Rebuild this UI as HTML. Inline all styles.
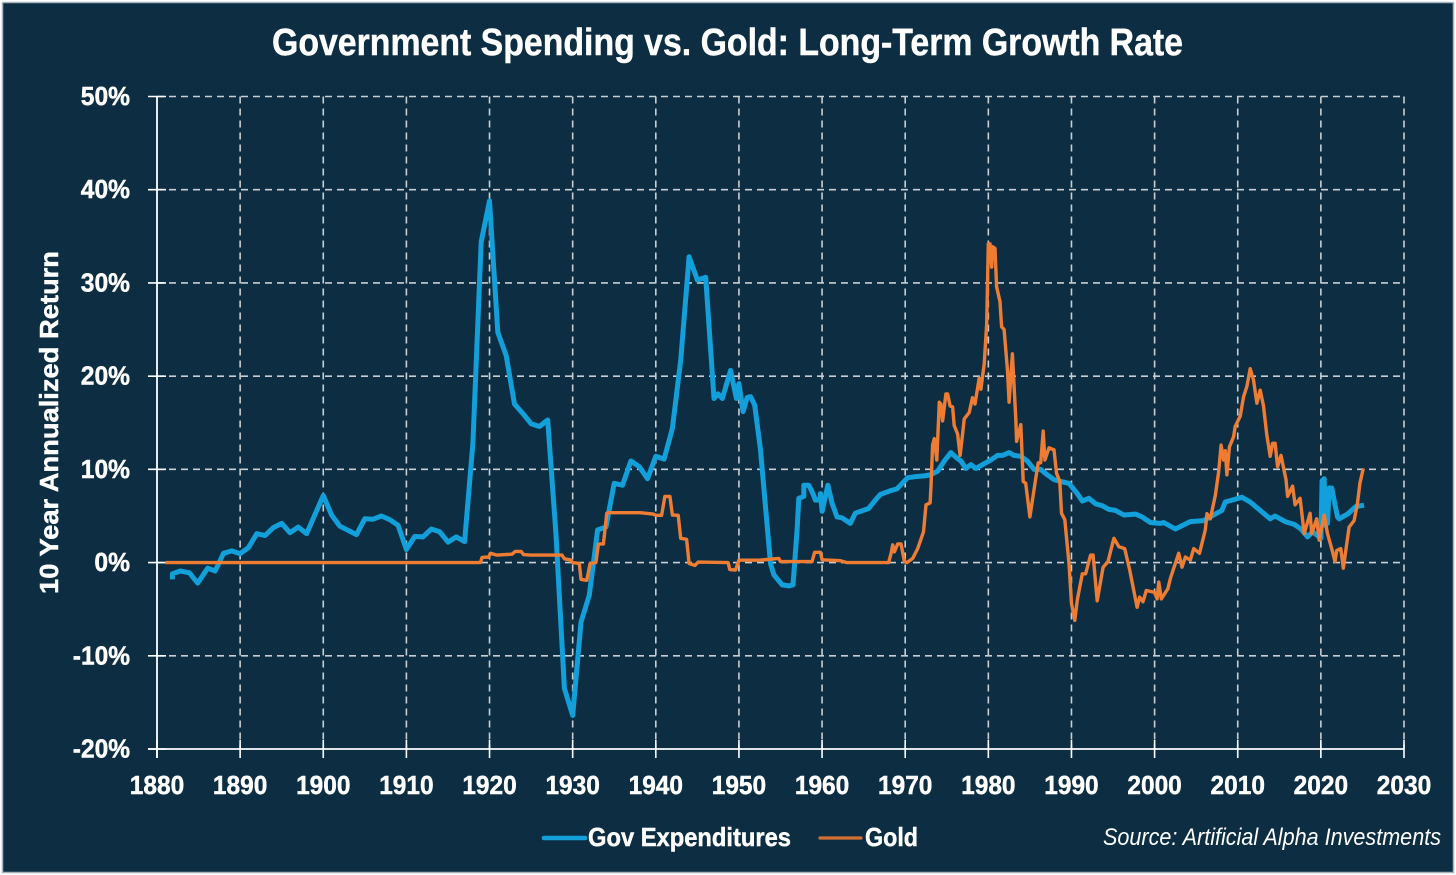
<!DOCTYPE html>
<html lang="en">
<head>
<meta charset="utf-8">
<title>Government Spending vs. Gold: Long-Term Growth Rate</title>
<style>
html,body{margin:0;padding:0;background:#fff;width:1456px;height:875px;overflow:hidden}
svg{display:block}
text{font-family:"Liberation Sans",sans-serif;fill:#fff}
.heavy{stroke:#fff;stroke-width:.45px}
</style>
</head>
<body>
<svg id="chart" width="1456" height="875" viewBox="0 0 1456 875" xmlns="http://www.w3.org/2000/svg">
  <rect x="2.5" y="2.5" width="1451" height="870" fill="#0d2e42" stroke="#a9b3bb" stroke-width="1.5"/>
  <text class="heavy" x="272" y="55" font-size="38" font-weight="700" textLength="911" lengthAdjust="spacingAndGlyphs">Government Spending vs. Gold: Long-Term Growth Rate</text>
  <text class="heavy" transform="translate(58,594) rotate(-90)" font-size="26" font-weight="700" textLength="343" lengthAdjust="spacingAndGlyphs">10 Year Annualized Return</text>
  <g id="grid"></g>
  <g id="axes"></g>
  <g id="series"></g>
  <g>
    <line x1="544" y1="838" x2="585" y2="838" stroke="#149fd8" stroke-width="4.6" stroke-linecap="round"/>
    <text class="heavy" x="588" y="846" font-size="26" font-weight="700" textLength="203" lengthAdjust="spacingAndGlyphs">Gov Expenditures</text>
  </g>
  <g>
    <line x1="820" y1="838" x2="861" y2="838" stroke="#d46f33" stroke-width="3.2" stroke-linecap="round"/>
    <text class="heavy" x="865" y="846" font-size="26" font-weight="700" textLength="53" lengthAdjust="spacingAndGlyphs">Gold</text>
  </g>
  <text x="1103" y="845" font-size="24" font-style="italic" textLength="338" lengthAdjust="spacingAndGlyphs">Source: Artificial Alpha Investments</text>
</svg>
<script>
const xTickLabels = [1880,1890,1900,1910,1920,1930,1940,1950,1960,1970,1980,1990,2000,2010,2020,2030];
const yTickLabels = [50,40,30,20,10,0,-10,-20];

const govYears = [1881.85,1881.85,1882.8,1883.9,1884.9,1886.1,1887,1888,1889,1890,1891,1892,1893,1894,1895,1896,1897,1898,1900,1901,1902,1904,1905,1906,1907,1908,1909,1910,1911,1912,1913,1914,1915,1916,1917,1918,1919,1920,1921,1922,1923,1924,1925,1926,1927,1928,1929,1930,1931,1932,1933,1934,1935,1936,1937,1938,1939,1940,1941,1942,1943,1944,1945,1946,1947,1947.5,1948,1949,1949.7,1950,1950.5,1951,1951.4,1951.9,1952.6,1953.8,1954.2,1955.2,1956,1956.5,1957,1957.2,1957.8,1957.8,1958.4,1958.8,1959.2,1959.7,1959.8,1960,1960.7,1961.2,1961.8,1962.4,1963.4,1964,1965.6,1966.6,1967,1968.2,1969,1970.3,1971.1,1972.3,1973,1973.9,1974.7,1975.5,1976.1,1976.7,1977.3,1977.9,1978.5,1979.3,1980.3,1981.1,1981.7,1982.5,1983.1,1983.9,1984.7,1985.5,1986.3,1987.1,1987.9,1988.7,1989.7,1990.7,1991.3,1992.1,1992.9,1993.7,1994.5,1995.3,1996.3,1997.7,1998.5,1999.5,2000.65,2001.1,2002.5,2004.3,2005.9,2007.3,2008.1,2008.5,2009.3,2010.5,2011.5,2012.7,2013.9,2014.5,2015.7,2016.8,2017.6,2018.4,2019,2020,2020.15,2020.3,2020.4,2020.55,2020.8,2021,2021.3,2022,2022.2,2023.2,2024.2,2025.2];
const govValues = [-1.8,-1.2,-0.9,-1.1,-2.2,-0.6,-0.9,1.0,1.25,0.95,1.6,3.1,2.9,3.75,4.2,3.2,3.8,3.1,7.2,5.1,3.9,3.0,4.7,4.65,5.0,4.6,4.0,1.4,2.8,2.75,3.6,3.3,2.2,2.75,2.25,12.8,34.4,38.8,24.7,22.2,17,16,14.9,14.6,15.3,3.0,-13.5,-16.4,-6.4,-3.5,3.5,3.8,8.5,8.3,10.9,10.3,9.0,11.4,11.1,14.4,21.7,32.8,30.3,30.6,17.6,18.1,17.6,20.6,17.6,19.2,16.2,17.7,17.8,16.9,12.1,-0.1,-1.3,-2.4,-2.5,-2.4,3.5,6.9,7.1,8.3,8.3,7.6,6.7,6.7,7.4,5.5,8.3,6.4,4.9,4.8,4.2,5.3,5.8,6.9,7.3,7.7,7.9,9.1,9.2,9.3,9.4,9.8,10.9,11.8,11.3,10.9,10.1,10.5,10.1,10.5,11,11.5,11.5,11.8,11.5,11.4,10.9,10,10,9.4,8.9,8.7,8.5,7.4,6.6,6.9,6.3,6.1,5.7,5.6,5.1,5.2,4.9,4.3,4.2,4.3,3.6,4.4,4.5,5.2,5.6,6.5,6.7,7,6.5,5.6,4.7,5,4.4,4.1,3.6,2.75,3.3,2.6,8.8,4,9,4.5,4.2,8,8,4.9,4.7,5.2,6.0,6.15];

const goldYears = [1881,1900,1918.9,1919.1,1919.9,1920.1,1920.9,1922.7,1923.1,1923.8,1924.1,1924.9,1928.7,1929,1929.7,1930,1930.8,1931,1931.7,1932.1,1932.8,1933.1,1933.7,1934.1,1934.3,1938.1,1939.7,1940,1940.7,1941.1,1941.7,1942,1942.7,1943,1943.7,1944,1944.7,1945.1,1948.7,1948.9,1949.6,1950,1952.5,1954.8,1955,1958.8,1959.1,1959.8,1960,1962.2,1963,1968,1968.3,1968.5,1968.7,1969.1,1969.5,1969.9,1970.2,1970.9,1971.5,1972.2,1972.5,1973,1973.1,1973.3,1973.5,1973.8,1974.1,1974.3,1974.5,1974.9,1975.1,1975.4,1975.7,1975.9,1976.3,1976.6,1976.9,1977.1,1977.7,1978.1,1978.4,1978.9,1979.1,1979.5,1979.8,1980,1980.2,1980.4,1980.5,1980.8,1981,1981.4,1981.6,1981.9,1982.3,1982.5,1982.9,1983.3,1983.4,1983.9,1984.2,1984.5,1985,1985.7,1986,1986.3,1986.6,1986.8,1987.3,1987.9,1988.2,1988.6,1988.8,1989.2,1989.7,1990,1990.4,1990.7,1991.3,1991.7,1992.3,1992.6,1993.1,1993.8,1994.4,1995.1,1995.7,1996.4,1997,1997.9,1998.2,1998.6,1999,2000,2000.3,2000.5,2000.8,2001.6,2001.9,2002.9,2003.3,2003.7,2004.3,2004.7,2005.4,2006.1,2006.3,2006.7,2007.3,2007.7,2008,2008.3,2008.5,2008.7,2009,2009.5,2009.7,2010.3,2010.7,2011.1,2011.5,2011.9,2012.3,2012.7,2013.1,2013.5,2013.9,2014.2,2014.5,2014.8,2015.2,2015.8,2016,2016.6,2016.9,2017.5,2018,2018.7,2018.9,2019.5,2019.8,2020.4,2020.8,2021.3,2021.7,2021.9,2022.4,2022.7,2023.4,2024,2024.4,2024.7,2025.1];
const goldValues = [0,0,0,0.55,0.6,1,0.8,0.9,1.2,1.2,0.85,0.8,0.8,0.4,0.3,0,-0.1,-1.8,-1.9,-0.1,0,2,2,5.3,5.35,5.35,5.2,5.07,5.07,7.1,7.1,5.1,5.07,2.6,2.5,-0.1,-0.3,0.05,0,-0.75,-0.8,0.25,0.25,0.45,0.1,0.1,1.1,1.1,0.3,0.2,0,0,1,1.9,1.15,2,2,0.1,0,0.45,1.5,3.3,6.2,6.4,8.2,12.6,13.3,11,17.2,17,15.2,18.1,18.1,16.8,16.7,14.7,13.8,11.5,13.8,15.4,16.1,17.7,17,19.8,18.6,21.3,25.6,34.2,34.2,31.7,33.9,33.7,29.6,28,25.3,25,20.6,17.2,22.4,15.4,13,14.8,8.7,8.5,4.9,9,10.7,10.7,14.1,11,12.3,12.1,9.6,8.7,5.3,4.6,-0.1,-4.4,-6.2,-4,-1.2,-1.2,0.8,0.8,-4.1,-0.5,0.1,2.6,1.7,1.5,-0.8,-4.8,-3.7,-4.2,-3,-3.2,-3.9,-2.1,-3.9,-2.8,-1.7,1,-0.5,0.6,0.25,1.5,1,3.5,5.25,4.7,7.2,9.7,12.6,11,12,9.4,12.4,13.5,14.6,15.7,17.8,18.9,20.8,19.6,17.1,18.5,16.8,13.7,11.4,12.8,12.8,10.3,11.5,8.9,7.1,8.2,6.2,6.9,3.1,5.3,3.1,4.7,2.4,5.1,3.1,1.5,0.1,1.3,1.5,-0.6,3.8,4.5,6.3,8.5,10.1];

const SVG_NS = 'http://www.w3.org/2000/svg';
const X_MIN = 1880, X_MAX = 2030, Y_MIN = -20, Y_MAX = 50;
const PLOT_LEFT = 157, PLOT_RIGHT = 1404, PLOT_TOP = 96.5, PLOT_BOTTOM = 749;
function xScale(year){ return PLOT_LEFT + (year - X_MIN) / (X_MAX - X_MIN) * (PLOT_RIGHT - PLOT_LEFT); }
function yScale(value){ return PLOT_BOTTOM - (value - Y_MIN) / (Y_MAX - Y_MIN) * (PLOT_BOTTOM - PLOT_TOP); }

function makeLine(x1, y1, x2, y2, stroke, width, dash){
  const l = document.createElementNS(SVG_NS, 'line');
  l.setAttribute('x1', x1);
  l.setAttribute('y1', y1);
  l.setAttribute('x2', x2);
  l.setAttribute('y2', y2);
  l.setAttribute('stroke', stroke);
  l.setAttribute('stroke-width', width);
  if (dash) l.setAttribute('stroke-dasharray', dash);
  return l;
}

function tickLabelWidth(label){
  const digits = label.replace(/[^0-9]/g, '').length;
  return digits * 13.6 + (label.indexOf('%') >= 0 ? 22 : 0) + (label.indexOf('-') >= 0 ? 8 : 0);
}

const gridGroup = document.getElementById('grid');
const axesGroup = document.getElementById('axes');
const seriesGroup = document.getElementById('series');

xTickLabels.forEach(function(year){
  const x = xScale(year);
  if (year !== X_MIN) {
    const g = makeLine(x, PLOT_TOP, x, PLOT_BOTTOM, '#c9ced2', 1.6, '7 5');
    
    
    gridGroup.appendChild(g);
  }
  const t = makeLine(x, 740, x, 758, '#ffffff', 1.6);
  
  
  axesGroup.appendChild(t);
  const lab = document.createElementNS(SVG_NS, 'text');
  lab.setAttribute('x', x);
  lab.setAttribute('y', 794);
  lab.setAttribute('text-anchor', 'middle');
  lab.setAttribute('font-size', '25.5');
  lab.setAttribute('font-weight', '700');
  lab.setAttribute('class', 'heavy');
  lab.setAttribute('textLength', tickLabelWidth(String(year)));
  lab.setAttribute('lengthAdjust', 'spacingAndGlyphs');
  lab.textContent = String(year);
  
  
  axesGroup.appendChild(lab);
});

yTickLabels.forEach(function(value){
  const y = yScale(value);
  if (value !== Y_MIN) {
    const g = makeLine(PLOT_LEFT, y, PLOT_RIGHT, y, '#c9ced2', 1.6, '7 5');
    
    
    gridGroup.appendChild(g);
  }
  const t = makeLine(148, y, 166, y, '#ffffff', 1.6);
  
  
  axesGroup.appendChild(t);
  const lab = document.createElementNS(SVG_NS, 'text');
  lab.setAttribute('x', 130);
  lab.setAttribute('y', y + 8.5);
  lab.setAttribute('text-anchor', 'end');
  lab.setAttribute('font-size', '25.5');
  lab.setAttribute('font-weight', '700');
  lab.setAttribute('class', 'heavy');
  lab.setAttribute('textLength', tickLabelWidth(value + '%'));
  lab.setAttribute('lengthAdjust', 'spacingAndGlyphs');
  lab.textContent = value + '%';
  
  
  axesGroup.appendChild(lab);
});

const yAxisLine = makeLine(PLOT_LEFT, PLOT_TOP, PLOT_LEFT, 758, '#ffffff', 1.8);


axesGroup.appendChild(yAxisLine);

const xAxisLine = makeLine(148, PLOT_BOTTOM, PLOT_RIGHT, PLOT_BOTTOM, '#ffffff', 1.8);


axesGroup.appendChild(xAxisLine);

function seriesPoints(years, values){
  return years.map(function(yr, i){
    return xScale(yr).toFixed(1) + ',' + yScale(values[i]).toFixed(1);
  }).join(' ');
}

const govLine = document.createElementNS(SVG_NS, 'polyline');
govLine.setAttribute('points', seriesPoints(govYears, govValues));
govLine.setAttribute('fill', 'none');
govLine.setAttribute('stroke', '#139fd9');
govLine.setAttribute('stroke-width', '5');
govLine.setAttribute('stroke-linejoin', 'round');


seriesGroup.appendChild(govLine);

const goldLine = document.createElementNS(SVG_NS, 'polyline');
goldLine.setAttribute('points', seriesPoints(goldYears, goldValues));
goldLine.setAttribute('fill', 'none');
goldLine.setAttribute('stroke', '#ee7d33');
goldLine.setAttribute('stroke-width', '3.4');
goldLine.setAttribute('stroke-linejoin', 'round');


seriesGroup.appendChild(goldLine);
</script>
</body>
</html>
